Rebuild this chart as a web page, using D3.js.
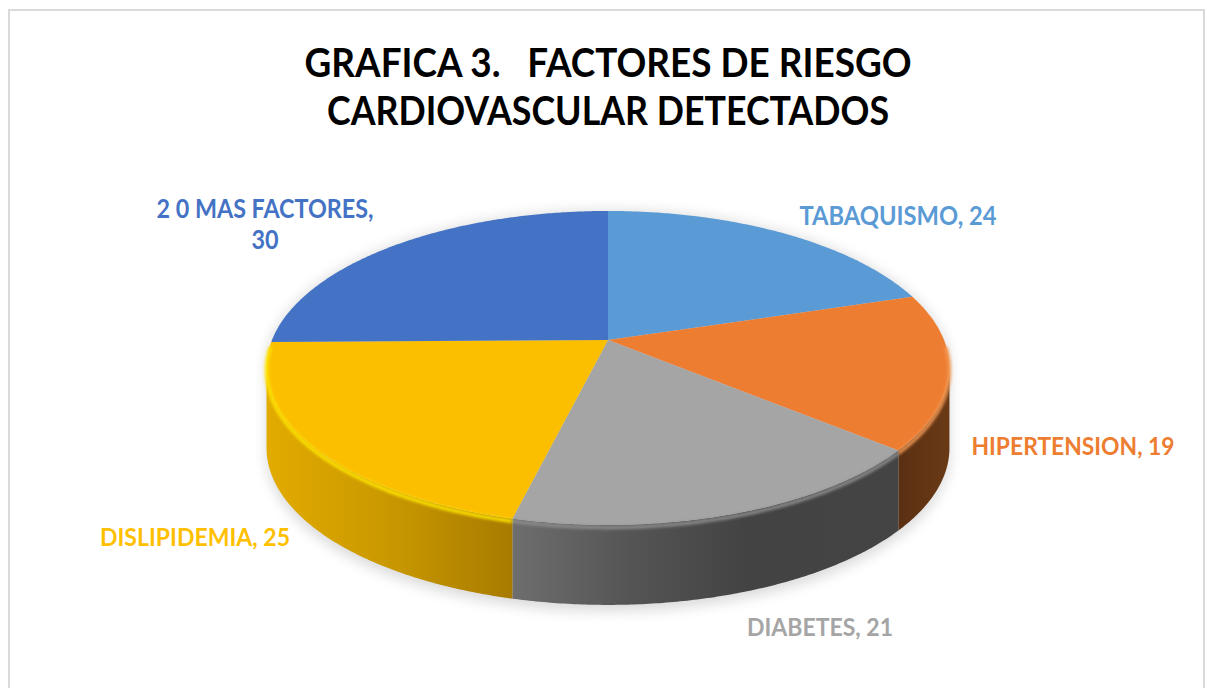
<!DOCTYPE html>
<html>
<head>
<meta charset="utf-8">
<script src="https://cdn.jsdelivr.net/npm/d3@7"></script>
<style>
  html, body { margin: 0; padding: 0; background: #fff; }
  svg { display: block; }
  text { font-family: Lato, "Open Sans", sans-serif; font-weight: 700; white-space: pre; }
</style>
</head>
<body>
<svg id="chart" width="1207" height="688"></svg>
<script>
// ---- data ----
const titleLines = ["GRAFICA 3.   FACTORES DE RIESGO", "CARDIOVASCULAR DETECTADOS"];
const categories = ["TABAQUISMO", "HIPERTENSION", "DIABETES", "DISLIPIDEMIA", "2 0 MAS FACTORES"];
const values = [24, 19, 21, 25, 30];
const colors = ["#5b9bd5", "#ed7d31", "#a5a5a5", "#fbbf00", "#4472c4"];
const labelColors = ["#5b9bd5", "#ed7d31", "#a5a5a5", "#ffc000", "#4472c4"];

// ---- styling / layout ----
const sideStops = [
  [["0%", "#3f6f9c"], ["100%", "#335a80"]],
  [["0%", "#5a2f12"], ["100%", "#6a3a16"]],
  [["0%", "#6e6e6e"], ["30%", "#555555"], ["60%", "#434343"], ["100%", "#444444"]],
  [["0%", "#e2ab00"], ["50%", "#c99800"], ["100%", "#a77b00"]],
  [["0%", "#30528f"], ["100%", "#2c4c85"]]
];
const rimColors = ["#7ab3e6", "#f39a55", "#8c8c8c", "#ffe400", "#6a92da"];
// label layout: [centerX, baselineY, targetWidth]
const labelLayout = [
  [898, 225, 197],
  [1073, 455, 203],
  [820, 636, 146],
  [195, 546, 190],
  [265, 218, 217]
];
const titleLayout = [[608, 77, 607], [608, 125, 562]];

const svg = d3.select("#chart");
const W = 1207, H = 688;
const defs = svg.append("defs");

svg.append("rect").attr("width", W).attr("height", H).attr("fill", "#fff");
svg.append("rect").attr("x", 9).attr("y", 10).attr("width", 1195).attr("height", 700)
  .attr("fill", "none").attr("stroke", "#d9d9d9").attr("stroke-width", 2);

// ---- projection of the tilted disk (perspective) ----
const cx = 608, cy = 340, C = 336, B = 152, k = -0.178, depth = 80;
function project(a) {
  const u = Math.sin(a), v = -Math.cos(a);
  const w = 1 + k * v;
  return [cx + C * u / w, cy + B * v / w];
}
const N = 720;
function arcPts(a0, a1, dy = 0) {
  const n = Math.max(2, Math.ceil(Math.abs(a1 - a0) / (2 * Math.PI) * N));
  return d3.range(n + 1).map(i => {
    const p = project(a0 + (a1 - a0) * i / n);
    return [p[0], p[1] + dy];
  });
}
const line = d3.line();

// silhouette extremes
const samples = d3.range(0, 2 * Math.PI, 0.0005);
const aRight = samples[d3.maxIndex(samples, a => project(a)[0])];
const aLeft = samples[d3.minIndex(samples, a => project(a)[0])];

const pie = d3.pie().sort(null).value(d => d).startAngle(0).endAngle(2 * Math.PI);
const arcs = pie(values);

// filters
const f = defs.append("filter").attr("id", "shadow").attr("x", "-20%").attr("y", "-20%").attr("width", "140%").attr("height", "140%");
f.append("feGaussianBlur").attr("stdDeviation", 7);
const fb = defs.append("filter").attr("id", "soft").attr("x", "-10%").attr("y", "-10%").attr("width", "120%").attr("height", "120%");
fb.append("feGaussianBlur").attr("stdDeviation", 1.6);

// shadow under pie
svg.append("path")
  .attr("d", line(arcPts(aRight, aLeft, depth + 6)) + "L" + line(arcPts(aLeft, aRight + 2 * Math.PI, 0)).slice(1) + "Z")
  .attr("fill", "#000").attr("opacity", 0.15).attr("filter", "url(#shadow)");

// side walls
arcs.forEach((d, i) => {
  const s = Math.max(d.startAngle, aRight), e = Math.min(d.endAngle, aLeft);
  if (e <= s) return;
  const top = arcPts(s, e, 0), bot = arcPts(s, e, depth).reverse();
  const xs = top.map(p => p[0]);
  const gid = "side" + i;
  const g = defs.append("linearGradient").attr("id", gid).attr("gradientUnits", "userSpaceOnUse")
    .attr("x1", d3.min(xs)).attr("x2", d3.max(xs)).attr("y1", 0).attr("y2", 0);
  sideStops[i].forEach(st => g.append("stop").attr("offset", st[0]).attr("stop-color", st[1]));
  svg.append("path").attr("d", line(top.concat(bot)) + "Z").attr("fill", `url(#${gid})`);
});

// top faces
arcs.forEach((d, i) => {
  const pts = [[cx, cy]].concat(arcPts(d.startAngle, d.endAngle, 0));
  svg.append("path").attr("d", line(pts) + "Z").attr("fill", colors[i]);
});

// bevel rim highlight on front edge
const rimG = svg.append("g");
arcs.forEach((d, i) => {
  const s = Math.max(d.startAngle, aRight - 0.15), e = Math.min(d.endAngle, aLeft + 0.15);
  if (e <= s) return;
  const pts = arcPts(s, e, 2.5);
  rimG.append("path").attr("d", line(pts)).attr("fill", "none")
    .attr("stroke", rimColors[i]).attr("stroke-width", 3.5).attr("filter", "url(#soft)");
});

// ---- text helpers ----
const SY = 1.1;
function fitText(x, y, str, targetW, base, color) {
  const t = svg.append("text").attr("text-anchor", "middle").attr("fill", color)
    .attr("transform", `translate(${x},${y}) scale(1,${SY})`).attr("font-size", base).text(str);
  const w = t.node().getComputedTextLength();
  t.attr("font-size", base * targetW / w);
  return t;
}

// ---- title ----
titleLines.forEach((s, i) => fitText(titleLayout[i][0], titleLayout[i][1], s, titleLayout[i][2], 36, "#000"));

// ---- labels ----
categories.forEach((c, i) => {
  const [lx, ly, tw] = labelLayout[i];
  if (i === 4) {
    const a = fitText(lx, ly, c + ",", tw, 21, labelColors[i]);
    svg.append("text").attr("text-anchor", "middle").attr("fill", labelColors[i])
      .attr("transform", `translate(${lx},${ly + 31}) scale(1,${SY})`)
      .attr("font-size", a.attr("font-size")).text(values[i]);
  } else {
    fitText(lx, ly, c + ", " + values[i], tw, 21, labelColors[i]);
  }
});
</script>
</body>
</html>
